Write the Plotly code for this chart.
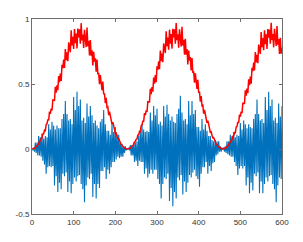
import plotly.graph_objects as go

# sample positions
x_vals = list(range(0, 601, 2))

# blue signal (modulated noise)
blue_vals = [
 0.00,-0.01,0.01,-0.02,0.05,-0.03,0.05,-0.05,0.10,-0.05,
 0.09,-0.06,0.12,-0.09,0.08,-0.12,0.10,-0.19,0.09,-0.14,
 0.19,-0.13,0.15,-0.14,0.21,-0.13,0.18,-0.28,0.15,-0.21,
 0.18,-0.33,0.16,-0.26,0.16,-0.31,0.23,-0.19,0.27,-0.21,
 0.37,-0.18,0.27,-0.33,0.22,-0.25,0.23,-0.34,0.19,-0.27,
 0.40,-0.22,0.30,-0.25,0.44,-0.21,0.33,-0.20,0.38,-0.27,
 0.22,-0.31,0.24,-0.41,0.20,-0.28,0.35,-0.22,0.25,-0.23,
 0.33,-0.19,0.26,-0.37,0.20,-0.27,0.22,-0.38,0.18,-0.27,
 0.16,-0.30,0.21,-0.17,0.23,-0.17,0.30,-0.14,0.19,-0.23,
 0.14,-0.16,0.14,-0.19,0.11,-0.14,0.20,-0.10,0.13,-0.10,
 0.17,-0.08,0.11,-0.06,0.11,-0.07,0.05,-0.06,0.04,-0.06,
 0.02,-0.03,0.02,-0.01,0.00,0.00,0.01,-0.01,0.03,-0.05,
 0.03,-0.05,0.05,-0.10,0.05,-0.09,0.06,-0.13,0.10,-0.09,
 0.13,-0.10,0.19,-0.10,0.15,-0.19,0.13,-0.15,0.14,-0.22,
 0.13,-0.19,0.28,-0.16,0.22,-0.19,0.33,-0.16,0.26,-0.16,
 0.31,-0.23,0.19,-0.27,0.21,-0.38,0.18,-0.27,0.33,-0.22,
 0.25,-0.23,0.34,-0.19,0.27,-0.40,0.22,-0.30,0.25,-0.44,
 0.21,-0.33,0.20,-0.38,0.27,-0.22,0.31,-0.24,0.41,-0.20,
 0.28,-0.35,0.22,-0.25,0.23,-0.33,0.19,-0.26,0.37,-0.20,
 0.26,-0.22,0.37,-0.18,0.27,-0.16,0.30,-0.21,0.17,-0.23,
 0.17,-0.29,0.14,-0.19,0.23,-0.14,0.15,-0.14,0.19,-0.10,
 0.14,-0.19,0.10,-0.13,0.10,-0.17,0.07,-0.11,0.06,-0.10,
 0.07,-0.05,0.06,-0.04,0.06,-0.02,0.02,-0.02,0.01,0.00,
 0.01,-0.02,0.02,-0.03,0.06,-0.04,0.06,-0.05,0.11,-0.06,
 0.10,-0.06,0.13,-0.10,0.09,-0.13,0.11,-0.20,0.10,-0.15,
 0.20,-0.13,0.15,-0.15,0.22,-0.13,0.19,-0.28,0.16,-0.22,
 0.19,-0.34,0.17,-0.26,0.16,-0.32,0.23,-0.19,0.27,-0.21,
 0.38,-0.18,0.27,-0.34,0.22,-0.25,0.23,-0.34,0.20,-0.27,
 0.40,-0.22,0.30,-0.25,0.44,-0.21,0.33,-0.20,0.38,-0.27,
 0.22,-0.31,0.24,-0.41,0.20,-0.28,0.35,-0.22,0.25,-0.23,
 0.33,
]

# red signal (noisy squared envelope)
red_vals = [
 0.000,0.001,0.003,0.006,0.011,0.015,0.025,0.032,0.039,0.059,
 0.062,0.080,0.084,0.116,0.117,0.144,0.141,0.188,0.193,0.228,
 0.220,0.288,0.271,0.310,0.296,0.377,0.373,0.374,0.478,0.434,
 0.489,0.452,0.562,0.514,0.581,0.524,0.648,0.621,0.687,0.623,
 0.769,0.684,0.743,0.675,0.821,0.775,0.744,0.914,0.796,0.864,
 0.769,0.922,0.813,0.888,0.774,0.926,0.859,0.920,0.810,0.968,
 0.835,0.881,0.777,0.917,0.841,0.784,0.934,0.791,0.833,0.720,
 0.839,0.717,0.760,0.643,0.747,0.672,0.697,0.594,0.688,0.575,
 0.586,0.499,0.569,0.503,0.452,0.519,0.422,0.427,0.353,0.393,
 0.321,0.325,0.261,0.288,0.245,0.239,0.191,0.207,0.161,0.151,
 0.119,0.123,0.098,0.079,0.080,0.057,0.049,0.033,0.030,0.019,
 0.014,0.007,0.004,0.001,0.000,0.000,0.002,0.004,0.008,0.012,
 0.021,0.027,0.034,0.053,0.057,0.074,0.077,0.107,0.109,0.135,
 0.133,0.178,0.184,0.217,0.211,0.276,0.260,0.298,0.285,0.364,
 0.360,0.362,0.464,0.422,0.477,0.441,0.550,0.503,0.569,0.514,
 0.636,0.610,0.675,0.614,0.758,0.675,0.734,0.667,0.812,0.768,
 0.738,0.906,0.791,0.858,0.764,0.918,0.810,0.885,0.772,0.925,
 0.858,0.920,0.810,0.969,0.837,0.883,0.779,0.921,0.845,0.788,
 0.940,0.796,0.840,0.726,0.847,0.725,0.769,0.651,0.757,0.681,
 0.707,0.604,0.700,0.585,0.597,0.510,0.582,0.515,0.463,0.532,
 0.434,0.440,0.364,0.407,0.333,0.337,0.272,0.300,0.255,0.250,
 0.201,0.218,0.170,0.161,0.126,0.132,0.106,0.086,0.088,0.062,
 0.054,0.038,0.035,0.022,0.017,0.009,0.006,0.003,0.001,0.000,
 0.001,0.003,0.006,0.009,0.018,0.023,0.030,0.047,0.051,0.067,
 0.071,0.099,0.101,0.126,0.125,0.168,0.174,0.207,0.201,0.264,
 0.249,0.287,0.275,0.352,0.349,0.351,0.451,0.411,0.464,0.430,
 0.537,0.491,0.557,0.503,0.624,0.599,0.664,0.604,0.746,0.666,
 0.724,0.660,0.803,0.760,0.731,0.899,0.784,0.853,0.760,0.913,
 0.806,0.882,0.769,0.923,0.857,0.919,0.810,0.970,0.838,0.885,
 0.782,0.924,0.849,0.792,0.946,0.802,0.846,0.732,0.855,0.733,
 0.778,
]

x_ticks = [0, 100, 200, 300, 400, 500, 600]
y_ticks = [-0.5, 0, 0.5, 1]
y_tick_text = ["-0.5", "0", "0.5", "1"]

fig = go.Figure()
fig.add_trace(go.Scatter(x=x_vals, y=blue_vals, mode="lines",
                         line=dict(color="#0072BD", width=1.1), showlegend=False))
fig.add_trace(go.Scatter(x=x_vals, y=red_vals, mode="lines",
                         line=dict(color="#FF0000", width=1.5), showlegend=False))

axis_common = dict(showgrid=False, zeroline=False, showline=True, mirror="ticks",
                   linecolor="#6e6e6e", linewidth=1, ticks="inside", ticklen=3,
                   tickcolor="#6e6e6e", tickwidth=1,
                   tickfont=dict(family="Liberation Sans, Arial, sans-serif", size=8, color="#333333"))

fig.update_xaxes(range=[0, 600], tickvals=x_ticks, **axis_common)
fig.update_yaxes(range=[-0.5, 1], tickvals=y_ticks, ticktext=y_tick_text, **axis_common)

fig.update_layout(width=303, height=242, margin=dict(l=32, r=21, t=19, b=28),
                  paper_bgcolor="white", plot_bgcolor="white")

fig.write_html("out.html", config={"displayModeBar": False},
               post_script="document.body.style.margin='0';document.body.style.padding='0';")
